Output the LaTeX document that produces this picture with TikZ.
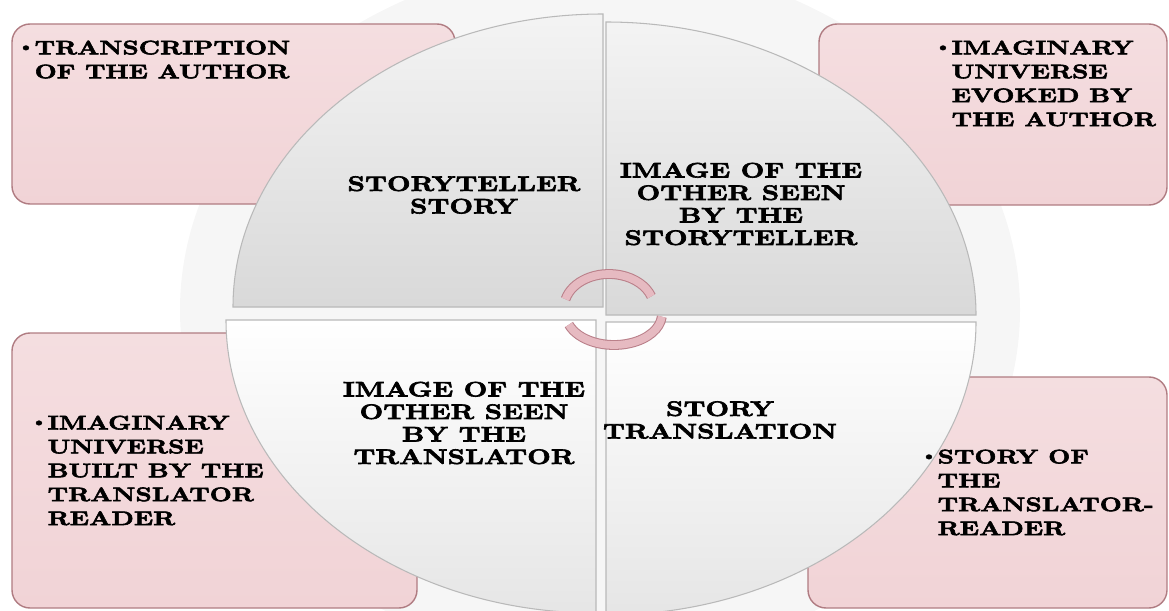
\documentclass[tikz,border=0pt]{standalone}
\usepackage{fontspec}
\usetikzlibrary{calc}
\newfontfamily\panelfont{lmroman10-bold.otf}[FakeStretch=1.3, FakeBold=3]
\definecolor{boxPink}{RGB}{241,211,214}
\definecolor{boxEdge}{RGB}{176,124,130}
\definecolor{arcPink}{RGB}{230,186,193}
\definecolor{arcEdge}{RGB}{186,128,138}
\tikzset{
  panel/.style={
    draw=boxEdge,
    line width=0.8pt,
    rounded corners=0.36cm,
    top color=boxPink!75!white,
    bottom color=boxPink,
    inner sep=0pt
  },
  quad/.style={draw=gray!55, line width=0.6pt},
  quadtext/.style={
    align=center,
    inner sep=0pt,
    font=\panelfont\fontsize{12}{12.8}\selectfont
  },
  boxtext/.style={
    align=left,
    inner sep=0pt,
    font=\panelfont\fontsize{11.2}{13.6}\selectfont
  },
  turn/.style={
    draw=arcEdge,
    line width=0.6pt,
    double=arcPink,
    double distance=4.4pt
  }
}
% small bullet hanging left of the first line
\newcommand\dotitem{%
  \makebox[0pt][r]{\raisebox{0.35ex}{\fontsize{8.5}{8.5}\selectfont\textbullet}}}

\begin{document}
\begin{tikzpicture}
    \useasboundingbox (0,0) rectangle (23.38,12.2);
    \clip (0,0) rectangle (23.38,12.2);

    % faint halo behind the circle
    \fill[gray!7] (12,6) ellipse [x radius=8.4cm, y radius=7cm];

    % the four corner boxes
    \node[panel, minimum width=8.86cm, minimum height=3.6cm]
      (authorBox) at (4.67,9.92) {};
    \node[panel, minimum width=6.96cm, minimum height=3.62cm]
      (evokedBox) at (19.86,9.91) {};
    \node[panel, minimum width=8.10cm, minimum height=5.5cm]
      (builtBox) at (4.29,2.79) {};
    \node[panel, minimum width=7.18cm, minimum height=4.62cm]
      (readerBox) at (19.75,2.35) {};

    % split circle, one corner per quarter
    \coordinate (qTL) at (12.06,6.06);
    \coordinate (qTR) at (12.12,5.90);
    \coordinate (qBL) at (11.92,5.80);
    \coordinate (qBR) at (12.12,5.76);

    \foreach \c/\a/\b/\tc/\bc in {qTL/180/90/gray!9/gray!30,
                                  qTR/90/0/gray!9/gray!30,
                                  qBL/270/180/white/gray!20,
                                  qBR/360/270/white/gray!20}{
      \draw[quad, top color=\tc, bottom color=\bc]
      (\c) -- ($(\c)+(\a:7.4cm and 5.86cm)$)
      arc[start angle=\a, end angle=\b, x radius=7.4cm, y radius=5.86cm]
      -- cycle;
    }

    % turning arrows in the middle
    \coordinate (hubUp) at (12.18,6.04);
    \coordinate (hubDown) at (12.28,5.92);
    \draw[turn]
    ($(hubUp)+(165:0.9cm and 0.68cm)$)
    arc[start angle=165, end angle=20, x radius=0.9cm, y radius=0.68cm];
    \draw[turn]
    ($(hubDown)+(200:0.96cm and 0.62cm)$)
    arc[start angle=200, end angle=355, x radius=0.96cm, y radius=0.62cm];

    % quarter labels
    \node[quadtext] (tellerStory) at (9.28,8.3) {STORYTELLER\\STORY};
    \node[quadtext] (tellerImage) at (14.82,8.12)
      {IMAGE OF THE\\OTHER SEEN\\BY THE\\STORYTELLER};
    \node[quadtext] (translatorImage) at (9.28,3.74)
      {IMAGE OF THE\\OTHER SEEN\\BY THE\\TRANSLATOR};
    \node[quadtext] (storyTranslation) at (14.4,3.8)
      {STORY\\TRANSLATION};

    % box labels
    \node[boxtext, anchor=north west] (authorText)
      at ($(authorBox.north west)+(0.46,-0.34)$)
      {\dotitem TRANSCRIPTION\\OF THE AUTHOR};
    \node[boxtext, anchor=north west] (evokedText)
      at ($(evokedBox.north west)+(2.66,-0.34)$)
      {\dotitem IMAGINARY\\UNIVERSE\\EVOKED BY\\THE AUTHOR};
    \node[boxtext, anchor=west] (builtText)
      at ($(builtBox.west)+(0.72,0)$)
      {\dotitem IMAGINARY\\UNIVERSE\\BUILT BY THE\\TRANSLATOR\\READER};
    \node[boxtext, anchor=west] (readerText)
      at ($(readerBox.west)+(2.60,0)$)
      {\dotitem STORY OF\\THE\\TRANSLATOR-\\READER};
\end{tikzpicture}
\end{document}
